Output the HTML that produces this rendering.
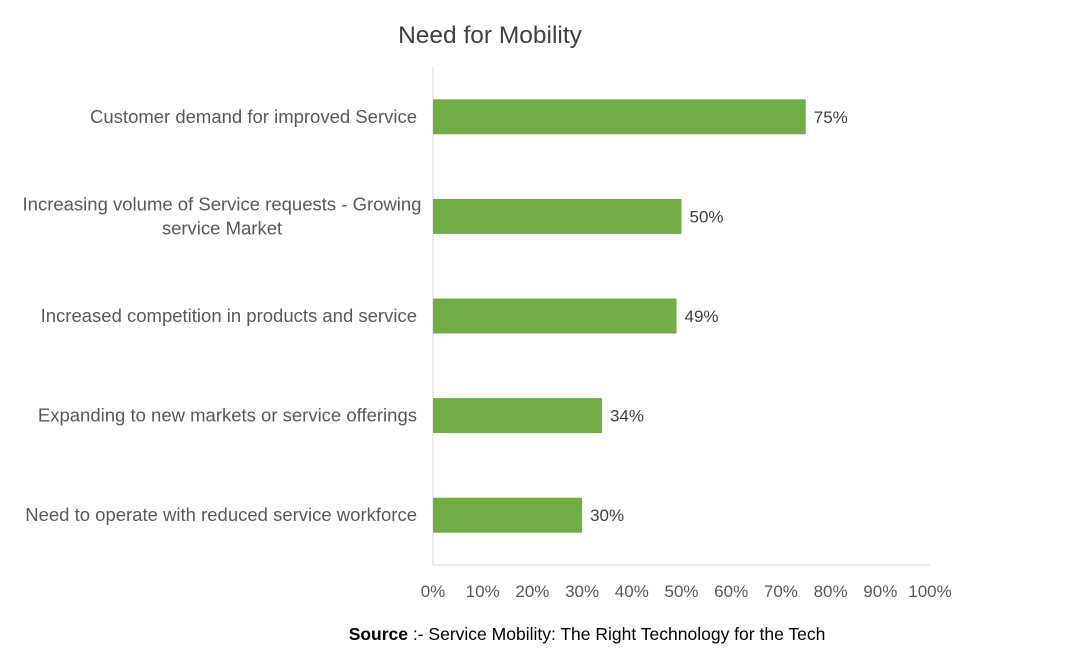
<!DOCTYPE html>
<html><head><meta charset="utf-8"><style>
body{margin:0;background:#fff;}
svg text{font-family:"Liberation Sans",sans-serif;}
</style></head><body>
<svg id="chart" width="1066" height="661" xmlns="http://www.w3.org/2000/svg">
<rect width="1066" height="661" fill="#fff"/>
<text x="490" y="43" font-size="24.5" fill="#404040" text-anchor="middle">Need for Mobility</text>
<g id="grid"></g><g id="bars"></g><g id="labels"></g>
<text x="587" y="640" font-size="17.5" fill="#000" text-anchor="middle"><tspan font-weight="bold">Source</tspan> :- Service Mobility: The Right Technology for the Tech</text>
</svg>
<script>
const categories=[["Customer demand for improved Service"],["Increasing volume of Service requests - Growing","service Market"],["Increased competition in products and service"],["Expanding to new markets or service offerings"],["Need to operate with reduced service workforce"]];
const values=[75,50,49,34,30];
const ticks=[0,10,20,30,40,50,60,70,80,90,100];
const NS="http://www.w3.org/2000/svg";
const x0=433,x1=930,yTop=67,yBot=565;
const xs=v=>x0+(x1-x0)*v/100;
const band=(yBot-yTop)/values.length;
const yc=i=>yTop+band*(i+0.5);
function mk(t,a,p){const e=document.createElementNS(NS,t);for(const k in a)e.setAttribute(k,a[k]);p.appendChild(e);return e;}
const g=document.getElementById('grid'),b=document.getElementById('bars'),l=document.getElementById('labels');
const ax=mk('line',{x1:x0,x2:x0,y1:yTop,y2:yBot,stroke:'#d9d9d9','stroke-width':1},g);


const bx=mk('line',{x1:x0,x2:x1,y1:yBot,y2:yBot,stroke:'#d9d9d9','stroke-width':1},g);


ticks.forEach(t=>{const e=mk('text',{x:xs(t),y:597,'font-size':17,fill:'#595959','text-anchor':'middle'},l);e.textContent=t+'%';

});
values.forEach((v,i)=>{
const r=mk('rect',{x:x0,y:yc(i)-17.5,width:xs(v)-x0,height:35,fill:'#70ad47'},b);


const vt=mk('text',{x:xs(v)+8,y:yc(i)+6,'font-size':17,fill:'#404040'},l);vt.textContent=v+'%';


const lines=categories[i];
lines.forEach((s,j)=>{const c=mk('text',{x:417,y:yc(i)+6+(j-(lines.length-1)/2)*24,'font-size':18.5,fill:'#595959','text-anchor':lines.length>1?'middle':'end'},l);
if(lines.length>1)c.setAttribute('x',222);
c.textContent=s;

});
});
</script>
</body></html>
